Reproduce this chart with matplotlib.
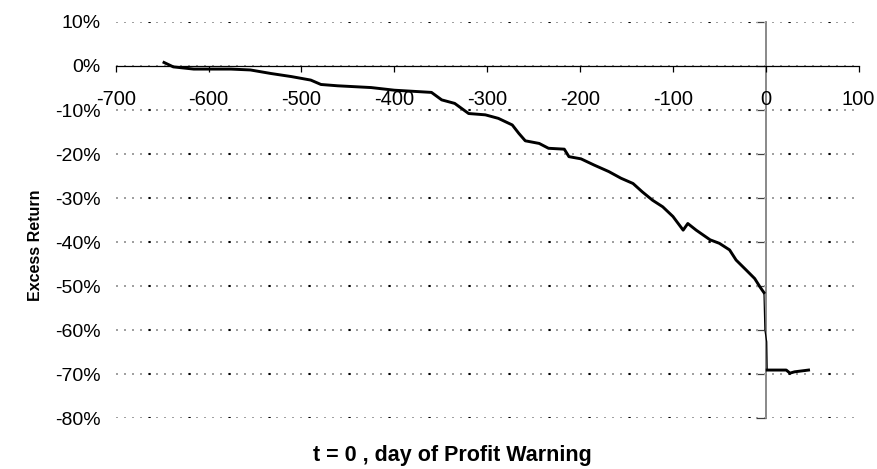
import numpy as np
import matplotlib
matplotlib.use("Agg")
import matplotlib.pyplot as plt

plt.rcParams['font.family'] = ['Liberation Sans', 'DejaVu Sans']
plt.rcParams['lines.scale_dashes'] = False
plt.rcParams['axes.unicode_minus'] = False

# cumulative excess return (%) vs. day relative to the profit warning
days = [-648, -638, -616, -576, -555, -533, -511, -490, -479, -461, -425, -400,
        -360, -349, -335, -320, -302, -288, -273, -266, -259, -244, -234, -217,
        -212, -199, -185, -169, -156, -143, -133, -122, -111, -100, -89, -84,
        -75, -60, -50, -39, -32, -21, -12, -6, -2, -1, 1, 1.5, 22, 26, 31, 46]
excess = [0.8, -0.2, -0.7, -0.7, -0.9, -1.7, -2.4, -3.2, -4.2, -4.5, -4.9, -5.5,
          -6.0, -7.7, -8.5, -10.8, -11.1, -11.9, -13.4, -15.3, -17.0, -17.6, -18.7, -18.9,
          -20.6, -21.1, -22.5, -24.0, -25.5, -26.7, -28.6, -30.5, -32.0, -34.2, -37.3, -35.8,
          -37.3, -39.5, -40.3, -41.8, -44.1, -46.4, -48.3, -50.3, -51.5, -60.0, -62.7, -69.1,
          -69.1, -69.8, -69.5, -69.1]
drop_start, drop_end = 44, 47   # the thin jump around t = 0

x_ticks = list(range(-700, 101, 100))
y_ticks = list(range(-80, 11, 10))

fig = plt.figure(figsize=(8.78, 4.69), dpi=100)
ax = fig.add_axes([0.1318, 0.1087, 0.978 - 0.1318, 0.9531 - 0.1087])
ax.set_xlim(-700, 100)
ax.set_ylim(-80, 10)

# excel style dotted grid: grey dashes plus a black dot every few dashes
ax.set_yticks(y_ticks)
ax.yaxis.grid(True, color='#a0a0a0', lw=1.44, linestyle=(0, (1.44, 4.32)))
ax.hlines([v for v in y_ticks if v != 0], -700, 100, color='black', lw=1.5,
          linestyle=(5.3, (1.5, 27.3)), zorder=1.6)

d = np.array(days)
e = np.array(excess)
ax.plot(d[:drop_start + 1], e[:drop_start + 1], color='black', lw=2.1, zorder=3)
ax.plot(d[drop_start:drop_end + 1], e[drop_start:drop_end + 1], color='black', lw=0.9, zorder=3)
ax.plot(d[drop_end:], e[drop_end:], color='black', lw=2.1, zorder=3)

# x axis crosses at 0%
for s in ['top', 'right', 'left']:
    ax.spines[s].set_visible(False)
ax.spines['bottom'].set_position(('data', 0))
ax.spines['bottom'].set_linewidth(0.9)
ax.set_xticks(x_ticks)
ax.tick_params(axis='x', direction='out', length=4, width=0.9, pad=13, labelsize=14.5)
ax.tick_params(axis='y', length=0, pad=11, labelsize=14)
ax.set_yticklabels([f'{v}%' for v in y_ticks])

# y axis line at t = 0
sec = ax.secondary_yaxis((0 - (-700)) / 800)
sec.set_yticks(y_ticks)
sec.yaxis.set_ticks_position('left')
sec.tick_params(direction='out', length=7, width=0.9, color='#404040',
                labelleft=False, labelright=False)
for s in sec.spines.values():
    s.set_visible(False)
sec.spines['left'].set_visible(True)
sec.spines['left'].set_color('#808080')
sec.spines['left'].set_linewidth(1.3)

fig.text(452 / 878, 1 - 455 / 469, 't = 0 , day of Profit Warning',
         ha='center', va='center', fontsize=15.5, fontweight='bold')
fig.text(35 / 878, 1 - 245 / 469, 'Excess Return', rotation=90,
         ha='center', va='center', fontsize=11.5, fontweight='bold')

fig.savefig('out.png', dpi=100)
